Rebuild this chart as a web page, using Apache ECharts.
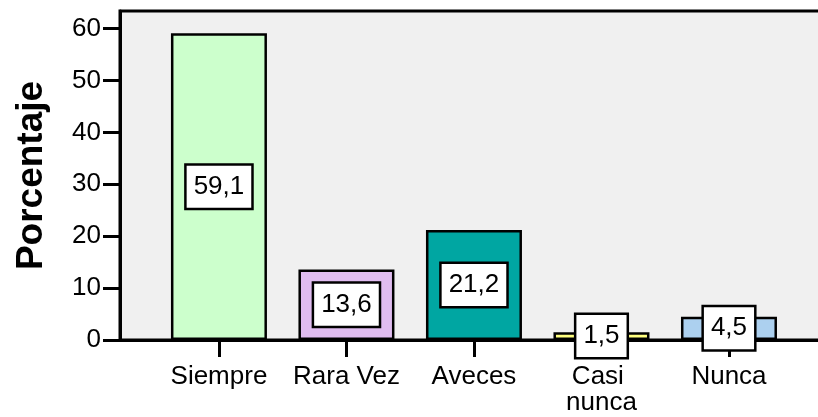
<!DOCTYPE html>
<html>
<head>
<meta charset="utf-8">
<script src="https://cdn.jsdelivr.net/npm/echarts@6/dist/echarts.min.js"></script>
<style>
  html, body { margin: 0; padding: 0; background: #fff; }
  #chart { width: 818px; height: 417px; }
</style>
</head>
<body>
<div id="chart"></div>
<script>
// datos del gráfico
const categorias = ["Siempre", "Rara Vez", "Aveces", "Casi nunca", "Nunca"];
const porcentajes = [59.1, 13.6, 21.2, 1.5, 4.5];
const colores = ["#ccffcc", "#e0bcf0", "#00a6a2", "#ffff80", "#acd0ef"];
const yTicks = [0, 10, 20, 30, 40, 50, 60];
const posiciones = [0, 1, 2, 3, 4];

const myChart = echarts.init(document.getElementById("chart"));

const fuente = "Liberation Sans";

myChart.setOption({
  animation: false,
  grid: {
    left: 120,
    top: 11,
    right: -20,
    bottom: 77,
    outerBoundsMode: "none",
    containLabel: false,
    show: true,
    backgroundColor: "#f0f0f0",
    borderColor: "#000",
    borderWidth: 3,
  },
  xAxis: {
    type: "value",
    min: -0.776,
    max: 4.855,
    splitLine: { show: false },
    axisLine: { onZero: false, lineStyle: { color: "#000", width: 3 } },
    axisTick: {
      show: true,
      customValues: posiciones,
      length: 17,
      lineStyle: { color: "#000", width: 3 },
    },
    axisLabel: {
      customValues: posiciones,
      formatter: (v) => {
        const i = Math.round(v);
        return posiciones.includes(i) && Math.abs(v - i) < 1e-6 ? categorias[i] : "";
      },
      color: "#000",
      fontFamily: fuente,
      fontSize: 26,
      lineHeight: 26,
      margin: 24,
      width: 118,
      overflow: "break",
    },
  },
  yAxis: {
    type: "value",
    min: 0,
    max: 63.4,
    name: "Porcentaje",
    nameLocation: "middle",
    nameGap: 70,
    nameTextStyle: {
      fontFamily: fuente,
      fontWeight: "bold",
      fontSize: 37,
      color: "#000",
    },
    splitLine: { show: false },
    axisLine: { show: true, onZero: false, lineStyle: { color: "#000", width: 3 } },
    axisTick: {
      show: true,
      customValues: yTicks,
      length: 17,
      lineStyle: { color: "#000", width: 3 },
    },
    axisLabel: {
      customValues: yTicks,
      color: "#000",
      fontFamily: fuente,
      fontSize: 26,
      margin: 19,
    },
  },
  series: [
    {
      type: "bar",
      barWidth: 96,
      data: porcentajes.map((v, i) => ({
        value: [posiciones[i], v],
        itemStyle: { color: colores[i] },
      })),
      itemStyle: { borderColor: "#000", borderWidth: 2.5 },
      label: {
        show: true,
        position: "inside",
        formatter: (p) => p.value[1].toFixed(1).replace(".", ","),
        color: "#000",
        fontFamily: fuente,
        fontSize: 26,
        lineHeight: 28,
        backgroundColor: "#fff",
        borderColor: "#000",
        borderWidth: 2.5,
        padding: [7, 7],
      },
    },
  ],
});
</script>
</body>
</html>
